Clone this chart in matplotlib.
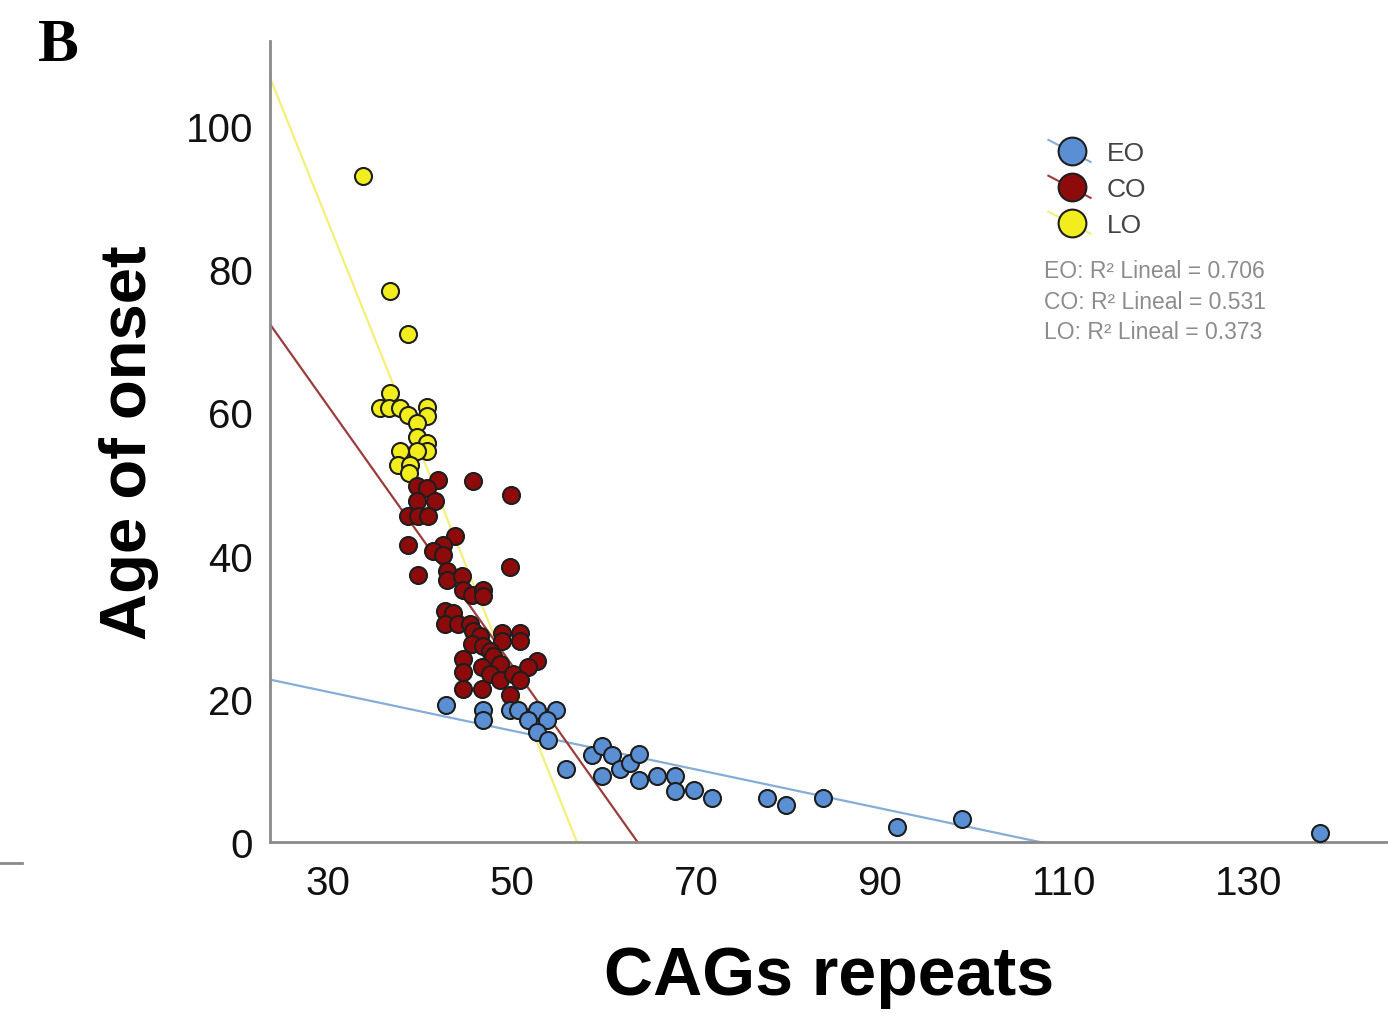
import numpy as np
import matplotlib
matplotlib.use("Agg")
import matplotlib.pyplot as plt
from matplotlib.lines import Line2D
from matplotlib.legend_handler import HandlerBase

# early onset (EO)
eo_cag = [42.8, 46.8, 46.8, 49.8, 50.7, 52.7, 54.8, 53.8, 51.7, 52.7, 53.9,
          55.9, 58.7, 59.8, 60.9, 59.8, 61.7, 62.8, 63.8, 63.8, 65.8, 67.7,
          67.7, 69.8, 71.7, 77.7, 79.8, 83.8, 91.8, 98.9, 137.8]
eo_age = [19.2, 18.4, 17.1, 18.4, 18.4, 18.4, 18.4, 17.1, 17.1, 15.3, 14.2,
          10.2, 12.1, 13.4, 12.1, 9.2, 10.2, 11.1, 12.3, 8.6, 9.2, 9.2,
          7.1, 7.2, 6.1, 6.1, 5.2, 6.1, 2.1, 3.2, 1.3]

# common onset (CO)
co_cag = [42.0, 45.8, 49.9, 39.7, 40.8, 39.7, 41.6, 38.7, 39.8, 40.9, 43.8,
          38.7, 42.5, 41.4, 42.5, 39.8, 49.8, 42.9, 42.9, 44.6, 44.7, 45.7,
          46.8, 46.8, 42.7, 43.6, 42.7, 44.1, 45.4, 45.8, 46.5, 48.9, 50.9,
          48.9, 50.9, 45.7, 46.8, 47.6, 44.7, 47.9, 48.7, 46.7, 52.7, 51.7,
          44.7, 47.6, 48.7, 50.1, 50.9, 44.7, 46.7, 49.8]
co_age = [50.6, 50.4, 48.5, 49.7, 49.4, 47.6, 47.6, 45.5, 45.5, 45.5, 42.8,
          41.5, 41.5, 40.7, 40.1, 37.3, 38.4, 37.9, 36.6, 37.2, 35.2, 34.5,
          35.2, 34.4, 32.3, 32.0, 30.4, 30.4, 30.4, 29.5, 28.8, 29.2, 29.2,
          28.1, 28.1, 27.6, 27.4, 26.7, 25.5, 26.0, 24.8, 24.4, 25.3, 24.4,
          23.7, 23.4, 22.6, 23.4, 22.6, 21.3, 21.3, 20.5]

# late onset (LO)
lo_cag = [33.8, 36.7, 38.7, 36.7, 35.7, 36.6, 37.8, 38.7, 40.8, 40.8, 39.7,
          39.7, 40.8, 40.8, 39.7, 37.8, 37.6, 38.9, 38.8]
lo_age = [93.0, 77.0, 71.0, 62.7, 60.6, 60.6, 60.6, 59.6, 60.7, 59.5, 58.5,
          56.5, 55.7, 54.6, 54.6, 54.6, 52.6, 52.6, 51.5]

groups = ["EO", "CO", "LO"]
fit_intercept = [29.1, 115.2, 182.6]
fit_slope = [-0.271, -1.81, -3.20]
r2 = [0.706, 0.531, 0.373]

xticks = [30, 50, 70, 90, 110, 130]
yticks = [0, 20, 40, 60, 80, 100]

fill_colors = ["#5b8fd4", "#8e0b0b", "#f2ee1e"]
line_colors = ["#86acd8", "#9c3d3d", "#f3f07a"]
edge = "#1e1e1e"


class DiagHandler(HandlerBase):
	def __init__(self, lc, fc):
		super().__init__()
		self.lc = lc
		self.fc = fc

	def create_artists(self, legend, orig_handle, xdescent, ydescent,
	                   width, height, fontsize, trans):
		ln = Line2D([0, width], [height * 1.1, -height * 0.1], color=self.lc,
		            lw=1.5, transform=trans)
		mk = Line2D([width * 0.55], [height / 2], marker="o", markersize=20,
		            markerfacecolor=self.fc, markeredgecolor=edge,
		            markeredgewidth=1.5, linestyle="none", transform=trans)
		return [ln, mk]


fig = plt.figure(figsize=(13.88, 10.2), dpi=100)
ax = fig.add_axes([0.1945, 0.1735, 0.8055, 0.785])

xs = [eo_cag, co_cag, lo_cag]
ys = [eo_age, co_age, lo_age]

xmin, xmax = 23.7, 145.2
xx = np.array([xmin, xmax])
for i in range(3):
	ax.plot(xx, fit_intercept[i] + fit_slope[i] * xx, color=line_colors[i],
	        lw=1.6, zorder=2)

for i in [2, 1, 0]:
	ax.scatter(xs[i], ys[i], s=150, c=fill_colors[i], edgecolors=edge,
	           linewidths=1.5, zorder=3)

ax.set_xlim(xmin, xmax)
ax.set_ylim(0, 111.8)
ax.set_xticks(xticks)
ax.set_yticks(yticks)
ax.tick_params(length=0, labelsize=29, labelcolor="#111111")
ax.tick_params(axis="x", pad=16)
ax.tick_params(axis="y", pad=12)
for lab in ax.get_xticklabels() + ax.get_yticklabels():
	lab.set_fontfamily("Liberation Sans")

for s in ["top", "right"]:
	ax.spines[s].set_visible(False)
for s in ["left", "bottom"]:
	ax.spines[s].set_color("#8a8a8a")
	ax.spines[s].set_linewidth(2)

ax.set_xlabel("CAGs repeats", fontsize=49, fontweight="bold",
              family="Liberation Sans", labelpad=30)
ax.set_ylabel("Age of onset", fontsize=47, fontweight="bold",
              family="Liberation Sans", labelpad=19)

handles = [Line2D([], []) for g in groups]
hmap = {handles[i]: DiagHandler(line_colors[i], fill_colors[i]) for i in range(3)}
leg = ax.legend(handles, groups, handler_map=hmap, loc="upper left",
                bbox_to_anchor=(0.675, 0.905), frameon=False,
                prop={"family": "Liberation Sans", "size": 19},
                handlelength=1.6, handletextpad=0.6, labelspacing=0.45)
for t in leg.get_texts():
	t.set_color("#444444")

r2_text = "\n".join(f"{g}: R\u00b2 Lineal = {v:.3f}" for g, v in zip(groups, r2))
ax.text(0.6925, 0.728, r2_text, transform=ax.transAxes, fontsize=16.5,
        family="Liberation Sans", color="#8c8c8c", va="top", linespacing=1.42)

fig.text(0.027, 0.94, "B", fontsize=44, fontweight="bold",
         family="Liberation Serif")
fig.add_artist(Line2D([0, 0.016], [0.153, 0.153], color="#8a8a8a", lw=2))

fig.savefig("out.png", dpi=100)
